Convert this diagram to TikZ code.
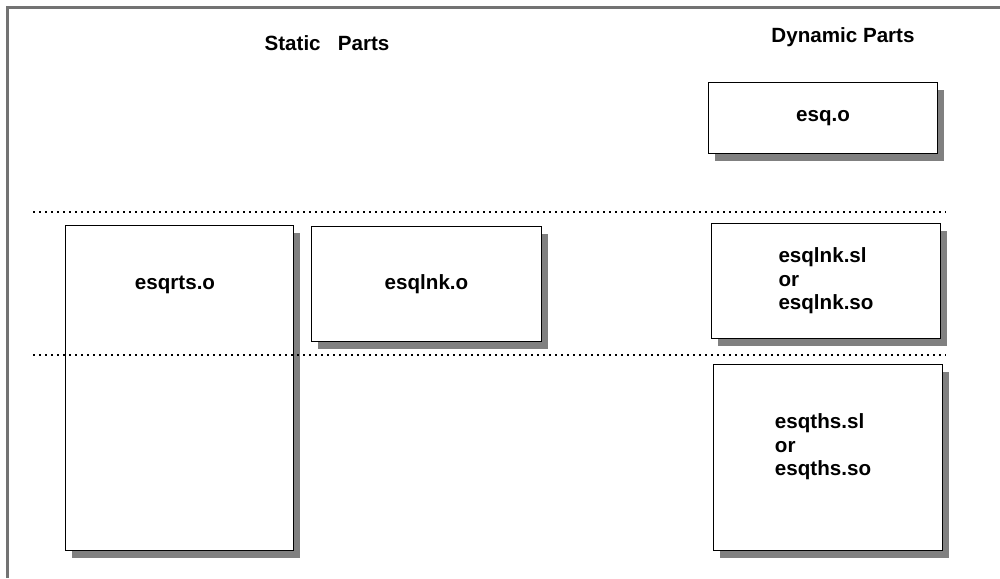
\documentclass[tikz,border=0pt]{standalone}
\usepackage{fontspec}
\setmainfont{Liberation Sans}
\usetikzlibrary{shadows,positioning}

\begin{document}
\begin{tikzpicture}[x=0.5pt, y=-0.5pt,
  every node/.style={font=\bfseries\fontsize{10.3}{11.75}\selectfont},
  part/.style={draw, line width=0.5pt, fill=white, anchor=north west, inner sep=0pt,
    drop shadow={shadow xshift=3pt, shadow yshift=-3.8pt, fill=black!50, opacity=1}},
  divider/.style={line width=1.1pt, dash pattern=on 1.1pt off 1.9pt}]
\useasboundingbox (0,0) rectangle (1000,578);
% frame (top and left edge only)
\draw[black!55, line width=1.1pt] (7.5,578) -- (7.5,7.5) -- (1000,7.5);
% headings
\node[anchor=base] (static) at (327,50) {Static\ \ \ Parts};
\node[anchor=base] (dynamic) at (843,42) {Dynamic Parts};
% static parts
\node[part, minimum width=114pt, minimum height=162.5pt] (rts) at (65,225) {};
\node (rtstxt) at (175,285) {esqrts.o};
\node[part, minimum width=115pt, minimum height=57.5pt] (lnk) at (311,226) {esqlnk.o};
% dynamic parts
\node[part, minimum width=114.5pt, minimum height=35.5pt] (esq) at (708,82) {esq.o};
\node[part, minimum width=114.5pt, minimum height=57.5pt, align=left] (lnksl) at (711,223) {esqlnk.sl\\or\\esqlnk.so};
\node[part, minimum width=114.5pt, minimum height=93pt] (ths) at (713,364) {};
\node[align=left] (thstxt) at (823,447) {esqths.sl\\or\\esqths.so};
% dividers
\coordinate (d1w) at (33,212);
\coordinate (d1e) at (946,212);
\coordinate (d2w) at (33,355);
\coordinate (d2e) at (946,355);
\draw[divider] (d1w) -- (d1e);
\draw[divider] (d2w) -- (d2e);
\end{tikzpicture}
\end{document}
